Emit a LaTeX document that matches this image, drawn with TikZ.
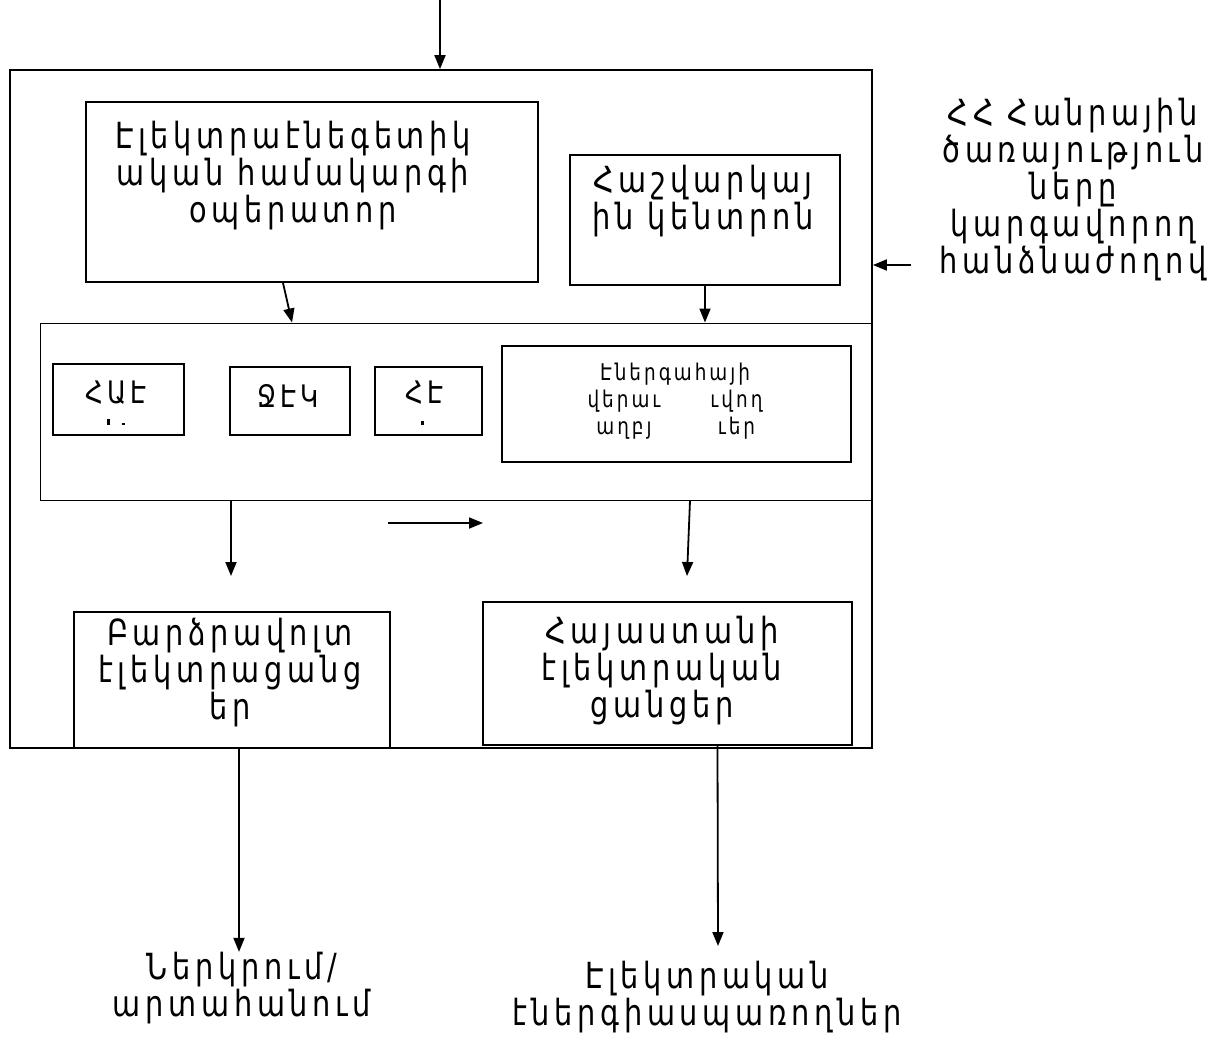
\documentclass[tikz,border=0pt]{standalone}
\usepackage{fontspec}
\setmainfont{DejaVu Sans}
\newfontfamily\arm[LetterSpace=13,FakeStretch=0.8]{DejaVu Sans}
\usetikzlibrary{arrows.meta}
\tikzset{
  box/.style={draw,line width=1.8pt,inner sep=0pt},
  thinbox/.style={draw,line width=1pt,inner sep=0pt},
  arr/.style={line width=1.8pt,-{Triangle[length=14pt,width=11pt]}},
  txt/.style={font=\arm\fontsize{36}{37}\selectfont,align=center,inner sep=0pt},
  abbr/.style={font=\arm\fontsize{31}{34}\selectfont,align=center,inner sep=0pt},
  smalltxt/.style={font=\arm\fontsize{23}{27}\selectfont,align=center,inner sep=0pt},
  tickmark/.style={fill=black,draw=none}
}
\begin{document}
\begin{tikzpicture}[x=1pt,y=-1pt]
\useasboundingbox (0,0) rectangle (1229,1037);
% boxes
\node[box,minimum width=862pt,minimum height=678pt] (outer) at (441,409) {};
\node[thinbox,minimum width=832pt,minimum height=177pt] (mid) at (456,411.5) {};
\node[box,minimum width=452pt,minimum height=180pt] (op) at (312,192) {};
\node[box,minimum width=270pt,minimum height=130pt] (calc) at (705,220) {};
\node[box,minimum width=131pt,minimum height=71pt] (nps) at (118.5,399.5) {};
\node[box,minimum width=120pt,minimum height=68pt] (tpp) at (290,401) {};
\node[box,minimum width=107pt,minimum height=68pt] (hpp) at (428.5,401) {};
\node[box,minimum width=349pt,minimum height=116pt] (ren) at (676.5,404) {};
\node[box,minimum width=316pt,minimum height=136pt] (hv) at (232,680) {};
\node[box,minimum width=369pt,minimum height=143pt] (arm) at (667.5,673.5) {};
% texts
\node[txt] (opt) at (293,176) {Էլեկտրաէնեգետիկ\\ական համակարգի\\օպերատոր};
\node[txt] (calct) at (703,201) {Հաշվարկայ\\ին կենտրոն};
\node[txt] (psrc) at (1073,190) {ՀՀ Հանրային\\ծառայություն\\ները\\կարգավորող\\հանձնաժողով};
\node[abbr] (npst) at (116,393) {ՀԱԷ};
\node[abbr] (tppt) at (288,396) {ՋԷԿ};
\node[abbr] (hppt) at (424.5,393) {ՀԷ};
\fill[tickmark] (107,419) rectangle (109.5,425);
\fill[tickmark] (122,423) rectangle (124.5,425);
\fill[tickmark] (421,421) rectangle (423.5,425);
\node[smalltxt] (rent) at (675,402) {\begin{tabular}{@{}c@{\hspace{50pt}}c@{}}
\multicolumn{2}{c}{Էներգահայի}\\
վերաւ & ւվող\\
աղբյ & ւեր
\end{tabular}};
\node[txt] (hvt) at (230,673) {Բարձրավոլտ\\էլեկտրացանց\\եր};
\node[txt] (armt) at (662,671) {Հայաստանի\\էլեկտրական\\ցանցեր};
\node[txt] (imp) at (242,988) {Ներկրում/\\արտահանում};
\node[txt] (cons) at (707,997) {Էլեկտրական\\էներգիասպառողներ};
% connectors
\coordinate (top) at (440,0);
\draw[arr] (top) -- (top |- outer.north);
\draw[arr] ([xshift=-29pt]op.south) -- ([xshift=-164pt]mid.north);
\draw[arr] (calc.south) -- (calc.south |- mid.north);
\coordinate (d1) at (231,576);
\draw[arr] (d1 |- mid.south) -- (d1);
\coordinate (h1) at (388,523);
\coordinate (h2) at (483,523);
\draw[arr] (h1) -- (h2);
\coordinate (d2) at (687,576);
\draw[arr] ([xshift=234pt]mid.south) -- (d2);
\draw[arr] ([xshift=7pt]hv.south) -- ([xshift=-3pt]imp.north);
\draw[arr] ([xshift=50pt]arm.south) -- (718,946);
\coordinate (r) at (911,265);
\draw[arr] (r) -- (r -| outer.east);
\end{tikzpicture}
\end{document}
